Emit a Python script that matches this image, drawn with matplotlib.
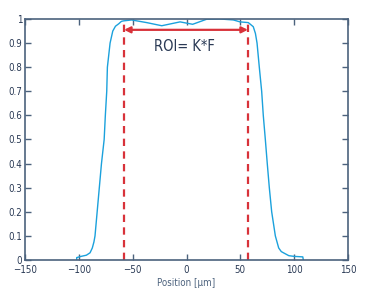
import matplotlib
matplotlib.use('Agg')
import matplotlib.pyplot as plt
from matplotlib import font_manager

# beam profile
pos_um = [-102, -102, -98, -93, -89.6, -87.5, -86, -85, -83, -81, -79, -76.5, -75.4, -74.1, -73.5,
          -71, -68.5, -66, -63, -60.5, -58.7, -51, -37, -23, -6, 5.7, 18.7, 31, 43.5, 49.7,
          57.4, 62, 64, 65.5, 67.6, 69.8, 71.3, 73.2, 75, 76.9, 79.1, 82.5, 85.6, 88, 90, 95,
          100, 108, 108.5]
intensity = [0, 0.01, 0.015, 0.02, 0.03, 0.05, 0.075, 0.1, 0.2, 0.3, 0.4, 0.5, 0.6, 0.7, 0.8,
             0.9, 0.95, 0.97, 0.98, 0.99, 0.992, 0.996, 0.985, 0.972, 0.988, 0.978, 0.999, 1.0,
             0.996, 0.988, 0.985, 0.968, 0.94, 0.9, 0.8, 0.7, 0.6, 0.5, 0.4, 0.3, 0.2, 0.1,
             0.05, 0.035, 0.03, 0.018, 0.015, 0.013, 0.0]
roi_edges = [-58, 57]
roi_top = 0.99
arrow_y = 0.955
roi_label = "ROI= K*F"
xticks = [-150, -100, -50, 0, 50, 100, 150]
yticks = [0, 0.1, 0.2, 0.3, 0.4, 0.5, 0.6, 0.7, 0.8, 0.9, 1]
ytlabels = ['0', '0.1', '0.2', '0.3', '0.4', '0.5', '0.6', '0.7', '0.8', '0.9', '1']

plt.rcParams['font.family'] = ['DejaVu Sans']
plt.rcParams['font.stretch'] = 'condensed'

axis_col = '#4c627d'
text_col = '#2a3a55'
red = '#d8323a'
blue = '#1ba1dc'

fig = plt.figure(figsize=(3.68, 2.99), dpi=100)
ax = fig.add_axes([0.068, 0.1304, 0.8777, 0.8061])

ax.plot(pos_um, intensity, color=blue, lw=1.0)
for xe in roi_edges:
    ax.plot([xe, xe], [0, roi_top], color=red, lw=1.6, linestyle=(0, (3.3, 2.4)))
ax.annotate('', xy=(roi_edges[1], arrow_y), xytext=(roi_edges[0], arrow_y),
            arrowprops=dict(arrowstyle='<|-|>', color=red, lw=1.6,
                            mutation_scale=9, shrinkA=0, shrinkB=0))
ax.text(-2, 0.884, roi_label, ha='center', va='center', fontsize=10.5, color=text_col,
        fontstretch='condensed')

ax.set_xlim(-150, 150)
ax.set_ylim(0, 1)
ax.set_xticks(xticks)
ax.set_yticks(yticks, ytlabels)
ax.tick_params(direction='in', length=4, width=1, color=axis_col, labelcolor=text_col,
               labelsize=7, top=True, right=True, pad=2)
ax.tick_params(axis='x', pad=3.5)
for s in ax.spines.values():
    s.set_color(axis_col)
    s.set_linewidth(1.2)
ax.set_xlabel('Position [µm]', fontsize=7, color=axis_col, labelpad=2)

plt.savefig('out.png', dpi=100)
